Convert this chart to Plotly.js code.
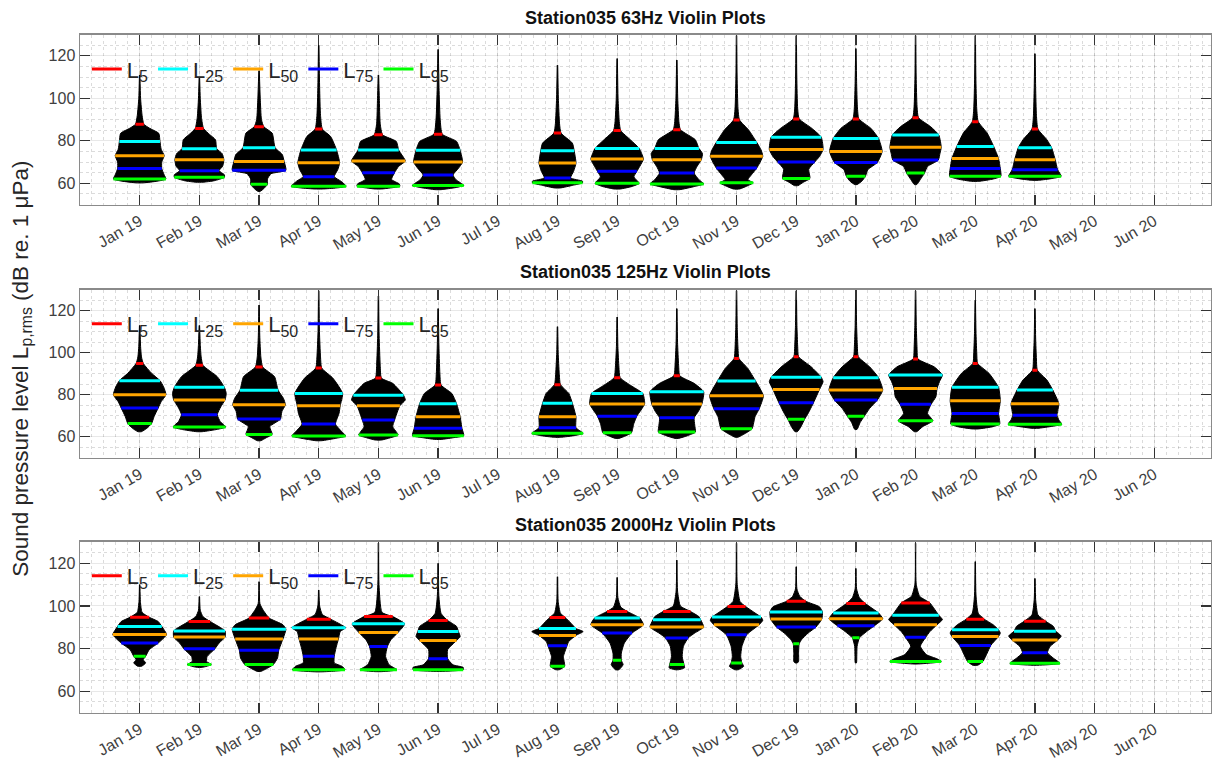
<!DOCTYPE html>
<html>
<head>
<meta charset="utf-8">
<script src="https://cdn.plot.ly/plotly-3.0.1.min.js"></script>
<style>
  html, body { margin: 0; padding: 0; background: #fff; }
  #chart { width: 1212px; height: 764px; }
</style>
</head>
<body>
<div id="chart"></div>
<script>
// Month labels along the x axis (position 1..18)
const months = ['Jan 19', 'Feb 19', 'Mar 19', 'Apr 19', 'May 19', 'Jun 19', 'Jul 19', 'Aug 19', 'Sep 19',
                'Oct 19', 'Nov 19', 'Dec 19', 'Jan 20', 'Feb 20', 'Mar 20', 'Apr 20', 'May 20', 'Jun 20'];

// Exceedance percentiles (dB re. 1 uPa); null = no recording that month
const L5_63  = [87.8, 85.8, 86.6, 85.5, 82.8, 83.1, null, 83.6, 84.8, 85.2, 89.8, 90.3, 90.3, 90.8, 89.0, 85.5, null, null];
const L25_63 = [79.7, 76.3, 76.7, 75.6, 75.6, 75.5, null, 75.3, 76.4, 76.4, 79.2, 81.7, 81.1, 82.7, 77.3, 76.7, null, null];
const L50_63 = [73.0, 71.1, 70.3, 69.7, 70.5, 70.0, null, 69.5, 71.4, 71.1, 72.7, 75.9, 75.0, 76.9, 71.7, 71.1, null, null];
const L75_63 = [66.9, 65.9, 66.1, 63.1, 65.0, 63.9, null, 62.5, 65.6, 64.8, 67.2, 70.0, 69.8, 70.9, 66.9, 66.4, null, null];
const L95_63 = [62.0, 62.8, 59.5, 58.6, 58.6, 59.0, null, 60.2, 60.0, 59.7, 60.2, 62.3, 63.3, 64.8, 63.3, 63.3, null, null];

const L5_125  = [94.9, 94.0, 93.2, 92.7, 87.9, 84.6, null, 84.8, 88.1, 89.0, 97.3, 98.1, 98.1, 97.0, 94.9, 91.7, null, null];
const L25_125 = [86.7, 83.5, 82.1, 80.6, 79.8, 75.7, null, 75.9, 80.6, 81.4, 86.5, 88.3, 88.1, 89.4, 83.5, 82.2, null, null];
const L50_125 = [80.0, 77.5, 75.2, 74.8, 74.8, 69.5, null, 69.5, 75.6, 75.6, 79.5, 82.5, 82.2, 83.0, 77.1, 75.7, null, null];
const L75_125 = [73.7, 70.5, 68.4, 66.0, 67.9, 64.0, null, 64.3, 69.8, 69.0, 73.3, 76.2, 77.5, 75.4, 71.1, 70.2, null, null];
const L95_125 = [66.3, 64.6, 61.1, 60.3, 60.8, 60.5, null, 61.6, 61.9, 62.2, 63.8, 68.3, 69.7, 67.6, 66.0, 65.9, null, null];

const L5_2k  = [94.7, 92.7, 94.3, 93.8, 95.0, 93.2, null, 94.6, 97.4, 97.4, 99.8, 102.2, 101.1, 101.4, 93.8, 92.8, null, null];
const L25_2k = [90.4, 88.3, 89.1, 89.8, 91.6, 88.0, null, 89.4, 94.3, 93.5, 94.8, 97.2, 96.7, 95.6, 88.8, 88.1, null, null];
const L50_2k = [86.6, 85.4, 84.5, 84.5, 87.6, 83.8, null, 86.2, 91.2, 90.1, 91.2, 93.9, 94.0, 91.2, 85.7, 84.0, null, null];
const L75_2k = [82.6, 79.9, 79.2, 76.4, 81.0, 75.3, null, 81.3, 87.3, 85.0, 86.5, 90.1, 90.7, 85.3, 81.5, 78.1, null, null];
const L95_2k = [76.4, 72.5, 72.5, 70.1, 70.1, 70.1, null, 71.7, 74.5, 72.5, 73.3, 82.3, 85.1, 73.9, 74.0, 73.1, null, null];

// Violin outlines per month: [level dB, half width in months], listed from top to bottom
const shape63 = [
  [[111,0.004],[100,0.015],[92,0.04],[87.8,0.07],[86,0.16],[83.5,0.32],[79.7,0.34],[76,0.36],[73,0.41],[70,0.37],[66.9,0.37],[64,0.41],[62,0.44],[61,0.3],[60.2,0.06]],
  [[110,0.004],[100,0.015],[91,0.035],[85.8,0.07],[83,0.17],[80.5,0.27],[76.3,0.29],[74,0.38],[71.1,0.41],[68,0.39],[65.9,0.33],[64,0.42],[62.8,0.42],[61.2,0.25],[60.5,0.06]],
  [[113,0.004],[100,0.02],[90,0.04],[86.6,0.08],[83.6,0.22],[76.7,0.27],[73.5,0.39],[70.3,0.42],[66.1,0.45],[64.5,0.2],[62,0.14],[59.5,0.14],[57.5,0.08],[56.2,0.02]],
  [[125,0.004],[105,0.015],[92,0.03],[85.5,0.06],[82,0.2],[75.6,0.3],[69.7,0.35],[66.5,0.32],[63.1,0.26],[61,0.37],[58.6,0.46],[57.8,0.3],[57.3,0.06]],
  [[111,0.004],[100,0.015],[88,0.03],[82.8,0.07],[79.7,0.3],[75.6,0.34],[70.5,0.45],[68,0.34],[65,0.27],[61.8,0.22],[59.7,0.35],[58.6,0.36],[57.8,0.2],[57.3,0.05]],
  [[123,0.004],[105,0.015],[90,0.035],[83.1,0.07],[79.7,0.31],[75.5,0.37],[70,0.41],[67,0.34],[63.9,0.25],[61.7,0.3],[59,0.43],[58,0.3],[57,0.05]],
  null,
  [[115.6,0.004],[100,0.015],[88,0.035],[83.6,0.06],[78.9,0.25],[75.3,0.28],[69.5,0.31],[65.6,0.27],[62.5,0.22],[61,0.42],[60.2,0.42],[59,0.25],[57.8,0.05]],
  [[118.7,0.004],[100,0.015],[89,0.035],[84.8,0.06],[80.5,0.22],[76.4,0.37],[71.4,0.44],[68,0.38],[65.6,0.33],[63,0.28],[60,0.37],[58.5,0.25],[57.3,0.05]],
  [[118,0.004],[100,0.015],[89,0.035],[85.2,0.06],[80.5,0.31],[76.4,0.37],[74,0.43],[71.1,0.41],[68,0.34],[64.8,0.29],[61.7,0.37],[59.7,0.45],[58.5,0.3],[57,0.05]],
  [[129.5,0.004],[110,0.01],[95,0.025],[89.8,0.05],[85.2,0.2],[79.2,0.34],[75.8,0.41],[72.7,0.44],[67.2,0.34],[64,0.25],[61.7,0.19],[60.2,0.28],[59,0.2],[57.3,0.05]],
  [[129.5,0.004],[110,0.01],[95,0.025],[90.3,0.05],[85.9,0.26],[81.7,0.42],[75.9,0.45],[72.6,0.39],[70,0.31],[66.6,0.21],[62.3,0.23],[60.5,0.12],[58.9,0.03]],
  [[123.4,0.004],[108,0.012],[96,0.025],[90.3,0.05],[85.9,0.25],[81.1,0.38],[75,0.44],[69.8,0.36],[66.4,0.2],[63.3,0.16],[61,0.1],[59.4,0.02]],
  [[129.5,0.004],[110,0.01],[96,0.025],[90.8,0.05],[86.7,0.25],[82.7,0.39],[76.9,0.43],[74.2,0.41],[70.9,0.38],[67.9,0.2],[64.8,0.15],[61.8,0.08],[59.4,0.02]],
  [[129.5,0.004],[110,0.01],[95,0.025],[89,0.05],[83.6,0.2],[77.3,0.31],[71.7,0.39],[66.9,0.42],[63.3,0.43],[62,0.3],[60.9,0.06]],
  [[121,0.004],[105,0.012],[92,0.025],[85.5,0.05],[80.5,0.2],[76.7,0.28],[71.1,0.34],[66.4,0.38],[63.3,0.44],[62.3,0.3],[61.4,0.06]],
  null, null
];

const shape125 = [
  [[113,0.004],[103,0.015],[98,0.03],[94.9,0.06],[90.2,0.2],[86.7,0.34],[83.8,0.4],[80,0.44],[76.7,0.36],[73.7,0.31],[69.5,0.24],[66.3,0.2],[64,0.12],[62.4,0.03]],
  [[113,0.004],[104,0.015],[98,0.03],[94,0.06],[88.6,0.3],[83.5,0.42],[80.6,0.45],[77.5,0.43],[74.3,0.36],[70.5,0.3],[67.2,0.35],[64.6,0.44],[63.5,0.3],[62.4,0.05]],
  [[122.7,0.004],[108,0.012],[98,0.03],[93.2,0.06],[88.6,0.26],[82.1,0.32],[78.2,0.41],[75.2,0.44],[71.9,0.38],[68.4,0.36],[64.8,0.18],[61.1,0.22],[59.5,0.12],[58.1,0.03]],
  [[129.5,0.004],[110,0.012],[98,0.03],[92.7,0.05],[87.8,0.24],[80.6,0.4],[74.8,0.36],[71.1,0.34],[66,0.28],[63.2,0.36],[60.3,0.45],[59.3,0.3],[58.1,0.05]],
  [[127,0.004],[108,0.012],[94,0.03],[87.9,0.05],[85.4,0.24],[79.8,0.42],[77.5,0.45],[74.8,0.36],[67.9,0.27],[64.8,0.24],[60.8,0.33],[59.5,0.2],[58.4,0.05]],
  [[121,0.004],[105,0.012],[90,0.03],[84.6,0.05],[80.6,0.23],[75.7,0.31],[69.5,0.37],[64,0.4],[60.5,0.43],[59.5,0.25],[58.7,0.05]],
  null,
  [[112.4,0.004],[100,0.012],[90,0.03],[84.8,0.05],[80.6,0.19],[75.9,0.25],[69.5,0.31],[64.3,0.31],[61.6,0.43],[60.6,0.3],[59.7,0.05]],
  [[117,0.004],[103,0.012],[93,0.03],[88.1,0.05],[84,0.25],[80.6,0.43],[75.6,0.46],[69.8,0.33],[66.3,0.28],[61.9,0.24],[60.5,0.15],[59.2,0.03]],
  [[121,0.004],[105,0.012],[94,0.03],[89,0.05],[85.4,0.29],[81.4,0.45],[75.6,0.42],[72,0.36],[69,0.29],[65.5,0.3],[62.2,0.31],[60.5,0.18],[59.2,0.03]],
  [[129.5,0.004],[112,0.012],[102,0.025],[97.3,0.04],[92.5,0.19],[86.5,0.32],[79.5,0.45],[73.3,0.38],[69.5,0.31],[63.8,0.26],[60.8,0.1],[59.7,0.02]],
  [[129.5,0.004],[113,0.012],[103,0.025],[98.1,0.04],[93.3,0.25],[88.3,0.42],[86.2,0.45],[82.5,0.39],[76.2,0.29],[71.1,0.2],[68.3,0.14],[64.8,0.08],[62.4,0.02]],
  [[129.5,0.004],[113,0.012],[103,0.025],[98.1,0.04],[93.3,0.23],[88.1,0.38],[82.2,0.45],[77.5,0.36],[73.5,0.23],[69.7,0.14],[66.7,0.07],[63.5,0.02]],
  [[129.5,0.004],[113,0.012],[102,0.025],[97,0.04],[93.3,0.31],[89.4,0.45],[86.2,0.4],[83,0.36],[79,0.34],[75.4,0.26],[71.1,0.2],[67.6,0.29],[64.8,0.12],[62.4,0.02]],
  [[125,0.004],[110,0.012],[100,0.025],[94.9,0.04],[90.2,0.23],[83.5,0.39],[77.1,0.42],[71.1,0.39],[66,0.41],[64.8,0.3],[63.7,0.05]],
  [[121,0.004],[107,0.012],[97,0.025],[91.7,0.04],[87,0.2],[82.2,0.3],[75.7,0.4],[70.2,0.37],[68,0.4],[65.9,0.45],[65,0.3],[64,0.05]],
  null, null
];

const shape2k = [
  [[110,0.004],[102,0.012],[97,0.04],[94.7,0.16],[92.7,0.31],[90.4,0.37],[86.6,0.45],[82.6,0.31],[79.5,0.16],[76.4,0.1],[74.8,0.06],[73.3,0.1],[71.7,0.03]],
  [[104.4,0.004],[98,0.015],[95,0.06],[92.7,0.18],[88.3,0.43],[85.4,0.43],[82.6,0.33],[79.9,0.26],[76.3,0.13],[74,0.12],[72.5,0.2],[71.2,0.05]],
  [[111.4,0.004],[101,0.015],[98,0.07],[94.3,0.17],[91.2,0.4],[89.1,0.45],[84.5,0.4],[79.2,0.33],[75.6,0.31],[72.5,0.24],[70.5,0.12],[69.3,0.03]],
  [[107.5,0.004],[100,0.015],[96,0.06],[93.8,0.2],[89.8,0.45],[88,0.36],[84.5,0.33],[80.4,0.29],[76.4,0.26],[73.3,0.26],[71.7,0.39],[70.1,0.44],[69.5,0.3],[69.1,0.05]],
  [[129.5,0.004],[110,0.01],[97,0.06],[95,0.24],[91.6,0.44],[87.6,0.33],[84.2,0.21],[81,0.15],[76.3,0.12],[72.4,0.18],[70.1,0.31],[69.5,0.2],[69.2,0.05]],
  [[120,0.004],[105,0.012],[96.5,0.05],[93.2,0.16],[90.4,0.31],[88,0.34],[85.7,0.37],[83.8,0.31],[79.5,0.16],[75.3,0.16],[72.4,0.25],[71.2,0.42],[70.1,0.42],[69.3,0.05]],
  null,
  [[113.7,0.004],[102,0.012],[96.6,0.05],[94.6,0.13],[91.2,0.25],[89.4,0.31],[88,0.43],[86.2,0.31],[83.4,0.19],[81.3,0.16],[76.3,0.1],[71.7,0.12],[70.1,0.03]],
  [[113.4,0.004],[104,0.012],[99.5,0.06],[97.4,0.17],[94.3,0.38],[91.2,0.44],[87.3,0.25],[82.6,0.12],[77.9,0.07],[74.5,0.07],[72.5,0.1],[70.1,0.03]],
  [[121.5,0.004],[107,0.012],[100,0.06],[97.4,0.23],[95,0.37],[93.5,0.4],[90.1,0.45],[87.3,0.3],[85,0.19],[81.1,0.11],[76.3,0.09],[72.5,0.12],[71,0.13],[70.1,0.03]],
  [[129.4,0.004],[110,0.012],[102,0.06],[99.8,0.15],[96.7,0.31],[94.8,0.41],[93.3,0.44],[91.2,0.38],[86.5,0.17],[81,0.09],[76.3,0.07],[73.3,0.09],[71.7,0.12],[70.1,0.03]],
  [[118.4,0.004],[108,0.012],[104.5,0.06],[102.2,0.16],[99.6,0.39],[97.2,0.44],[93.9,0.43],[90.1,0.33],[87.3,0.2],[84.2,0.09],[82.3,0.05],[78,0.04],[74,0.04],[73.3,0.02]],
  [[117.6,0.004],[108,0.012],[103.8,0.06],[101.1,0.16],[96.7,0.38],[94,0.45],[90.7,0.31],[88,0.18],[85.1,0.06],[81,0.02],[76.3,0.015],[73.3,0.01]],
  [[129.4,0.004],[110,0.012],[104.5,0.07],[101.4,0.24],[95.6,0.39],[93.6,0.45],[91.2,0.36],[88,0.24],[85.3,0.17],[81.1,0.08],[77.2,0.18],[75.2,0.36],[73.9,0.43],[72.8,0.05]],
  [[120.8,0.004],[105,0.012],[96.6,0.05],[93.8,0.15],[91.2,0.3],[88.8,0.39],[87.3,0.42],[85.7,0.39],[81.5,0.26],[77.9,0.2],[74,0.13],[72.2,0.04]],
  [[112.9,0.004],[103,0.012],[95.8,0.05],[92.8,0.18],[90.4,0.31],[88.1,0.35],[85.9,0.44],[84,0.38],[80.9,0.25],[78.1,0.21],[75.5,0.31],[73.1,0.42],[72.2,0.05]],
  null, null
];

const bandTitles = ['Station035 63Hz Violin Plots', 'Station035 125Hz Violin Plots', 'Station035 2000Hz Violin Plots'];
const pctSubs = ['5', '25', '50', '75', '95'];
const pctColors = ['#ff0000', '#00ffff', '#ffa500', '#0000ff', '#00ff00'];

const bands = [
  { L: [L5_63, L25_63, L50_63, L75_63, L95_63], shape: shape63 },
  { L: [L5_125, L25_125, L50_125, L75_125, L95_125], shape: shape125 },
  { L: [L5_2k, L25_2k, L50_2k, L75_2k, L95_2k], shape: shape2k }
];

// Half width of a violin outline at a given level (linear between outline points)
function halfWidthAt(profile, v) {
  for (let i = 0; i < profile.length - 1; i++) {
    const [v1, w1] = profile[i];
    const [v2, w2] = profile[i + 1];
    if (v <= v1 && v >= v2) {
      const t = v1 === v2 ? 0 : (v1 - v) / (v1 - v2);
      return w1 + t * (w2 - w1);
    }
  }
  return 0;
}

const traces = [];
bands.forEach((band, bi) => {
  const xa = bi === 0 ? 'x' : 'x' + (bi + 1);
  const ya = bi === 0 ? 'y' : 'y' + (bi + 1);
  const legendId = bi === 0 ? 'legend' : 'legend' + (bi + 1);

  // black violin bodies
  band.shape.forEach((prof, mi) => {
    if (!prof) return;
    const cx = mi + 1;
    const xs = [], ys = [];
    prof.forEach(([v, w]) => { xs.push(cx + w); ys.push(v); });
    for (let i = prof.length - 1; i >= 0; i--) { xs.push(cx - prof[i][1]); ys.push(prof[i][0]); }
    traces.push({
      type: 'scatter', mode: 'lines', x: xs, y: ys, fill: 'toself',
      fillcolor: '#000000', line: { color: '#000000', width: 1, shape: 'spline', smoothing: 0.5 },
      xaxis: xa, yaxis: ya, showlegend: false, hoverinfo: 'skip'
    });
  });

  // percentile bars across each violin
  band.L.forEach((vals, pi) => {
    const xs = [], ys = [];
    vals.forEach((v, mi) => {
      if (v == null || !band.shape[mi]) return;
      const w = halfWidthAt(band.shape[mi], v);
      xs.push(mi + 1 - w, mi + 1 + w, null);
      ys.push(v, v, null);
    });
    traces.push({
      type: 'scatter', mode: 'lines', x: xs, y: ys,
      line: { color: pctColors[pi], width: 3 },
      name: 'L<sub><span style="font-size:16px">' + pctSubs[pi] + '</span></sub>',
      legend: legendId,
      xaxis: xa, yaxis: ya, hoverinfo: 'skip'
    });
  });
});

const FONT = 'Liberation Sans, Arial, Helvetica, sans-serif';
const tickVals = months.map((m, i) => i + 1);

function xAxis(anchor) {
  return {
    anchor: anchor, domain: [0, 1], range: [0, 18.95],
    tickmode: 'array', tickvals: tickVals, ticktext: months, tickangle: -30,
    tickfont: { family: FONT, size: 16, color: '#404040' },
    ticks: 'inside', ticklen: 10, tickwidth: 1.3, tickcolor: '#333333',
    showline: true, linecolor: '#8a8a8a', linewidth: 1.5, mirror: 'ticks',
    showgrid: true, gridcolor: 'rgba(0,0,0,0.09)', gridwidth: 1,
    zeroline: false,
    minor: { tickmode: 'linear', tick0: 0, dtick: 0.2, showgrid: true, gridcolor: 'rgba(0,0,0,0.14)', griddash: 'dot', gridwidth: 1, ticks: '' }
  };
}
function yAxis(anchor, domain) {
  return {
    anchor: anchor, domain: domain, range: [50, 130],
    tickmode: 'linear', tick0: 0, dtick: 20,
    tickfont: { family: FONT, size: 16, color: '#404040' },
    ticks: 'inside', ticklen: 10, tickwidth: 1.3, tickcolor: '#333333',
    showline: true, linecolor: '#8a8a8a', linewidth: 1.5, mirror: 'ticks',
    showgrid: true, gridcolor: 'rgba(0,0,0,0.09)', gridwidth: 1,
    zeroline: false,
    minor: { tickmode: 'linear', tick0: 0, dtick: 5, showgrid: true, gridcolor: 'rgba(0,0,0,0.14)', griddash: 'dot', gridwidth: 1, ticks: '' }
  };
}
function legendAt(y) {
  return {
    x: 0.006, y: y, xanchor: 'left', yanchor: 'top', orientation: 'h',
    bgcolor: 'rgba(0,0,0,0)', borderwidth: 0,
    font: { family: FONT, size: 22, color: '#262626' },
    itemclick: false, itemdoubleclick: false
  };
}

const domains = [[0.7323, 0.9548], [0.4009, 0.6208], [0.0673, 0.2906]];
const titleY = [0.9764, 0.6440, 0.3128];

const annotations = bandTitles.map((t, i) => ({
  text: '<b>' + t + '</b>', xref: 'paper', yref: 'paper', x: 0.5, y: titleY[i],
  xanchor: 'center', yanchor: 'middle', showarrow: false,
  font: { family: FONT, size: 18, color: '#111111' }
}));
annotations.push({
  text: 'Sound pressure level L<sub>p,rms</sub> (dB re. 1 μPa)',
  xref: 'paper', yref: 'paper', x: -0.0515, y: 0.517, textangle: -90,
  xanchor: 'center', yanchor: 'middle', showarrow: false,
  font: { family: FONT, size: 22.5, color: '#262626' }
});

const layout = {
  width: 1212, height: 764,
  margin: { l: 80, r: 1, t: 0, b: 0 },
  paper_bgcolor: '#ffffff', plot_bgcolor: '#ffffff',
  font: { family: FONT },
  showlegend: true,
  xaxis: xAxis('y'), yaxis: yAxis('x', domains[0]),
  xaxis2: xAxis('y2'), yaxis2: yAxis('x2', domains[1]),
  xaxis3: xAxis('y3'), yaxis3: yAxis('x3', domains[2]),
  legend: legendAt(0.937), legend2: legendAt(0.6034), legend3: legendAt(0.2736),
  annotations: annotations
};

Plotly.newPlot('chart', traces, layout, { displayModeBar: false, staticPlot: true });
</script>
</body>
</html>
